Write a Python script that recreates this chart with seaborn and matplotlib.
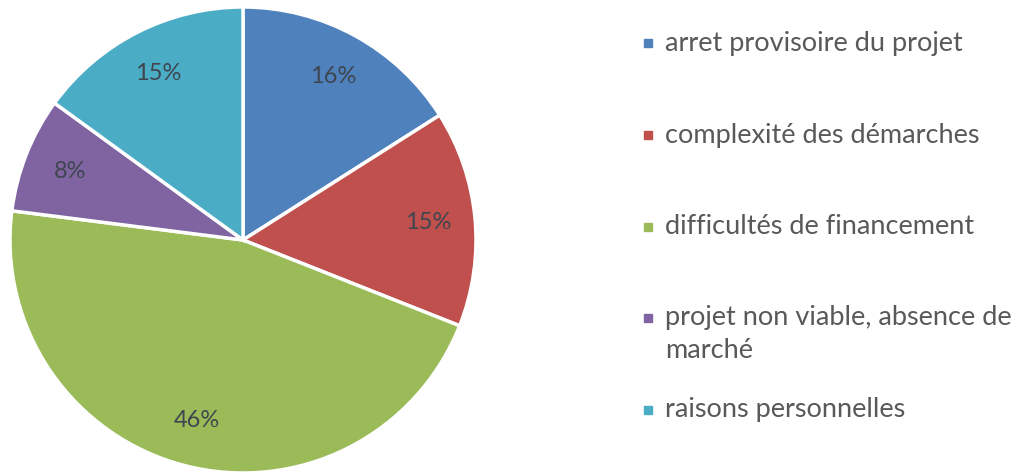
import matplotlib
matplotlib.use("Agg")
import matplotlib.pyplot as plt
import seaborn as sns
from matplotlib.lines import Line2D

categories = ["arret provisoire du projet", "complexité des démarches",
              "difficultés de financement", "projet non viable, absence de\nmarché",
              "raisons personnelles"]
values = [16, 15, 46, 8, 15]
colors = ["#4F81BD", "#C0504D", "#9BBB59", "#8064A2", "#4BACC6"]

sns.set_theme(style="white")
plt.rcParams['font.family'] = ['Lato', 'DejaVu Sans']

W, H = 1022, 475
fig = plt.figure(figsize=(W / 100, H / 100), dpi=100)
ax = fig.add_axes([10 / W, 2 / H, 466 / W, 466 / H])
wedges, texts, autotexts = ax.pie(
    values, colors=sns.color_palette(colors), startangle=90, counterclock=False,
    autopct=lambda p: f"{p:.0f}%", pctdistance=0.8, radius=1,
    wedgeprops=dict(edgecolor="white", linewidth=2.5),
    textprops=dict(color="#3F4650", fontsize=17))
ax.set_xlim(-1, 1)
ax.set_ylim(-1, 1)
ax.set_aspect("equal")
ax.axis("off")

# legend
ys = [43, 135, 227, 318, 410]
for lab, col, y in zip(categories, colors, ys):
    fy = 1 - y / H
    fig.add_artist(Line2D([648 / W], [fy], marker="s", markersize=6,
                          color=col, transform=fig.transFigure, linestyle="none"))
    if "\n" in lab:
        fig.text(665 / W, 1 - (y - 13) / H, lab, ha="left", va="top",
                 fontsize=19.5, color="#595959", linespacing=1.38)
    else:
        fig.text(665 / W, fy, lab, ha="left", va="center",
                 fontsize=19.5, color="#595959")

fig.savefig("out.png", dpi=100, facecolor="white")
